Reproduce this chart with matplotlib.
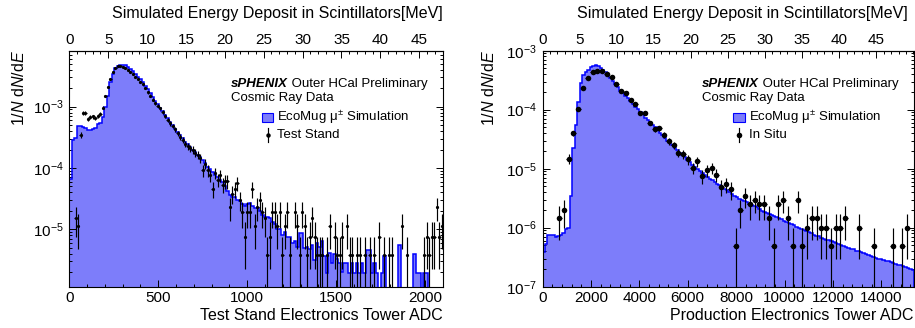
import numpy as np
import matplotlib
matplotlib.use("Agg")
import matplotlib.pyplot as plt
from matplotlib.ticker import (MultipleLocator, FixedLocator, LogLocator,
                               FuncFormatter, NullFormatter)
from matplotlib.patches import Rectangle
from matplotlib.lines import Line2D

plt.rcParams['font.family'] = ['Liberation Sans', 'DejaVu Sans']
plt.rcParams['mathtext.fontset'] = 'custom'
plt.rcParams['mathtext.rm'] = 'Liberation Sans'
plt.rcParams['mathtext.it'] = 'Liberation Sans:italic'
plt.rcParams['mathtext.bf'] = 'Liberation Sans:bold'

# ---------------- data ----------------
# Left: Test Stand electronics (ADC 0-2100, 150 bins)
left_adc_range = (0, 2100)
left_sim = [
    6.5e-5, 2.9e-4, 3.1e-4, 4.8e-4, 4.8e-4, 4.7e-4, 4.5e-4, 4.1e-4, 4.2e-4, 4.4e-4,
    4.5e-4, 5.3e-4, 5.4e-4, 6.8e-4, 1.0e-3, 1.5e-3, 2.5e-3, 3.4e-3, 4.2e-3, 4.6e-3,
    4.7e-3, 4.75e-3, 4.7e-3, 4.5e-3, 4.1e-3, 3.8e-3, 3.4e-3, 3.1e-3, 2.8e-3, 2.5e-3,
    2.2e-3, 1.95e-3, 1.65e-3, 1.42e-3, 1.25e-3, 1.12e-3, 9.6e-4, 8.5e-4, 7.4e-4, 6.6e-4,
    5.7e-4, 5.0e-4, 4.4e-4, 3.9e-4, 3.4e-4, 3.1e-4, 2.7e-4, 2.5e-4, 2.2e-4, 2.0e-4,
    1.85e-4, 1.65e-4, 1.5e-4, 1.35e-4, 1.2e-4, 1.05e-4, 9.5e-5, 8.5e-5, 7.6e-5, 7.0e-5,
    6.4e-5, 5.8e-5, 5.0e-5, 4.2e-5, 3.6e-5, 3.4e-5, 3.3e-5, 3.0e-5, 2.9e-5, 2.6e-5,
    2.4e-5, 2.6e-5, 2.7e-5, 2.4e-5, 2.2e-5, 2.2e-5, 2.0e-5, 1.7e-5, 1.6e-5, 1.6e-5,
    1.5e-5, 1.3e-5, 1.2e-5, 1.0e-5, 1.0e-5, 8.0e-6, 9.0e-6, 7.6e-6, 7.6e-6, 6.0e-6,
    6.5e-6, 5.2e-6, 8.6e-6, 8.6e-6, 5.0e-6, 5.2e-6, 4.8e-6, 5.5e-6, 3.2e-6, 6.0e-6,
    5.2e-6, 6.5e-6, 3.6e-6, 1.9e-6, 4.1e-6, 2.8e-6, 4.0e-6, 3.3e-6, 2.8e-6, 2.0e-6,
    2.8e-6, 2.8e-6, 1.9e-6, 2.8e-6, 1.9e-6, 2.8e-6, 1.9e-6, 2.8e-6, 1.9e-6, 4.6e-6,
    4.6e-6, 1.9e-6, 2.8e-6, 1.9e-6, 0.0, 1.9e-6, 3.6e-6, 0.0, 0.0, 0.0,
    0.0, 0.0, 5.5e-6, 0.0, 0.0, 0.0, 0.0, 0.0, 4.0e-6, 1.9e-6,
    1.9e-6, 0.0, 1.9e-6, 1.9e-6, 0.0, 0.0, 0.0, 0.0, 0.0, 0.0,
]
left_counts = [
    0, 0, 4, 3, 92, 210, 208, 165, 176, 182,
    175, 185, 200, 253, 395, 558, 737, 968, 1130, 1210,
    1210, 1180, 1125, 1045, 970, 885, 810, 735, 675, 610,
    525, 452, 398, 340, 300, 273, 248, 218, 185, 160,
    141, 128, 113, 97, 85, 75, 65, 60, 55, 52,
    47, 43, 38, 24, 31, 24, 20, 12, 22, 17,
    20, 14, 16, 16, 6, 10, 12, 15, 8, 5,
    2, 5, 5, 12, 3, 6, 8, 5, 4, 1,
    2, 5, 5, 3, 5, 1, 3, 5, 1, 0,
    5, 3, 1, 5, 3, 1, 2, 4, 2, 1,
    1, 1, 0, 1, 3, 0, 2, 1, 1, 2,
    0, 3, 1, 1, 0, 1, 1, 0, 1, 0,
    1, 0, 1, 0, 2, 0, 1, 0, 1, 1,
    0, 0, 0, 3, 0, 1, 0, 0, 0, 0,
    0, 0, 1, 2, 1, 2, 2, 6, 2, 3,
]
left_unit = 3.8e-6          # 1/N dN/dE of a single count

# Right: Production electronics (ADC 0-15360)
right_adc_range = (0, 15360)
right_sim = [
    3.9e-7, 5.2e-7, 7.6e-7, 7.6e-7, 7.5e-7, 7.0e-7, 7.3e-7, 7.6e-7, 8.0e-7, 9.6e-7,
    1.0e-6, 3.5e-6, 2.2e-5, 5.5e-5, 1.35e-4, 2.8e-4, 3.9e-4, 4.4e-4, 4.8e-4, 5.35e-4,
    5.6e-4, 5.65e-4, 5.5e-4, 5.1e-4, 4.7e-4, 4.3e-4, 3.9e-4, 3.5e-4, 3.1e-4, 2.7e-4,
    2.4e-4, 2.1e-4, 1.9e-4, 1.72e-4, 1.55e-4, 1.38e-4, 1.24e-4, 1.12e-4, 1.02e-4, 9.2e-5,
    8.3e-5, 7.3e-5, 6.6e-5, 6.0e-5, 5.5e-5, 5.0e-5, 4.6e-5, 4.1e-5, 3.7e-5, 3.3e-5,
    3.0e-5, 2.7e-5, 2.5e-5, 2.25e-5, 2.05e-5, 1.85e-5, 1.7e-5, 1.55e-5, 1.4e-5, 1.28e-5,
    1.16e-5, 1.06e-5, 9.8e-6, 9.0e-6, 8.4e-6, 7.8e-6, 7.3e-6, 6.8e-6, 6.4e-6, 6.0e-6,
    5.6e-6, 5.2e-6, 4.9e-6, 4.6e-6, 4.3e-6, 4.0e-6, 3.75e-6, 3.5e-6, 3.3e-6, 3.1e-6,
    3.0e-6, 2.85e-6, 2.7e-6, 2.55e-6, 2.45e-6, 2.3e-6, 2.2e-6, 2.05e-6, 1.95e-6, 1.85e-6,
    1.8e-6, 1.72e-6, 1.62e-6, 1.55e-6, 1.5e-6, 1.45e-6, 1.4e-6, 1.32e-6, 1.26e-6, 1.2e-6,
    1.15e-6, 1.1e-6, 1.04e-6, 9.9e-7, 9.5e-7, 9.0e-7, 8.7e-7, 8.3e-7, 8.0e-7, 7.6e-7,
    7.3e-7, 7.1e-7, 6.8e-7, 6.5e-7, 6.3e-7, 6.1e-7, 5.9e-7, 5.7e-7, 5.4e-7, 5.3e-7,
    5.1e-7, 4.9e-7, 4.8e-7, 4.6e-7, 4.4e-7, 4.3e-7, 4.1e-7, 4.0e-7, 3.8e-7, 3.7e-7,
    3.6e-7, 3.5e-7, 3.35e-7, 3.2e-7, 3.1e-7, 3.0e-7, 2.95e-7, 2.85e-7, 2.75e-7, 2.7e-7,
    2.6e-7, 2.5e-7, 2.45e-7, 2.35e-7, 2.3e-7, 2.2e-7, 2.15e-7, 2.05e-7, 2.0e-7, 1.95e-7,
]
right_counts = [
    0, 0, 0, 3, 4, 30, 80, 206, 477, 687,
    869, 909, 909, 828, 727, 552, 418, 384, 295, 255,
    176, 176, 121, 94, 97, 75, 59, 50, 38, 36,
    29, 21, 27, 15, 19, 21, 16, 10, 11, 9,
    1, 4, 7, 5, 6, 5, 5, 3, 1, 5,
    6, 3, 1, 6, 1, 2, 3, 3, 2, 2,
    1, 2, 2, 3, 0, 0, 2, 0, 0, 1,
    0, 0, 0, 1, 0, 1, 2, 0,
]
right_unit = 4.95e-7

# secondary (energy) axis conversion, ADC per MeV
left_adc_per_mev = 43.7
right_adc_per_mev = 306.5
mev_ticks = [0, 5, 10, 15, 20, 25, 30, 35, 40, 45]

# ---------------- style ----------------
FILL = '#7d7dfa'
EDGE = '#0000ff'
W, H = 915, 328

fig = plt.figure(figsize=(W / 100, H / 100), dpi=100)

def fx(px):
    return px / W

def fy(py):
    return 1 - py / H

def log_fmt(v, pos):
    return r'$10^{%d}$' % int(round(np.log10(v)))

def draw_panel(ax, sim, counts, unit, adc_range, ylim, adc_per_mev,
               xmajor, xminor, msize):
    sim = np.asarray(sim, dtype=float)
    counts = np.asarray(counts, dtype=float)
    sim_edges = np.linspace(adc_range[0], adc_range[1], len(sim) + 1)
    floor = ylim[0] * 1e-3
    sim_draw = np.where(sim > 0, sim, floor)
    ax.stairs(sim_draw, sim_edges, baseline=floor, fill=True,
              color=FILL, lw=0, zorder=1)
    ax.stairs(sim_draw, sim_edges, baseline=floor, fill=False,
              color=EDGE, lw=1.1, zorder=2)

    d_edges = np.linspace(adc_range[0], adc_range[1], len(counts) + 1)
    centers = 0.5 * (d_edges[:-1] + d_edges[1:])
    half = 0.5 * (d_edges[1] - d_edges[0])
    m = counts > 0
    val = counts[m] * unit
    err = np.sqrt(counts[m]) * unit
    lo = np.minimum(err, val * (1 - 1e-9))
    ax.errorbar(centers[m], val, yerr=[lo, err], xerr=half,
                fmt='o', color='black', ms=msize, mew=0, elinewidth=0.85,
                capsize=0, zorder=3)

    ax.set_yscale('log')
    ax.set_xlim(*adc_range)
    ax.set_ylim(*ylim)
    ax.xaxis.set_major_locator(MultipleLocator(xmajor))
    ax.xaxis.set_minor_locator(MultipleLocator(xminor))
    ax.yaxis.set_major_locator(LogLocator(base=10))
    ax.yaxis.set_minor_locator(LogLocator(base=10, subs=np.arange(2, 10)))
    ax.yaxis.set_major_formatter(FuncFormatter(log_fmt))
    ax.yaxis.set_minor_formatter(NullFormatter())
    ax.tick_params(axis='both', which='both', direction='in', top=False,
                   right=True, labelsize=11, color='black')
    ax.tick_params(axis='both', which='major', length=4.8, width=0.7)
    ax.tick_params(axis='both', which='minor', length=2.4, width=0.7)
    ax.tick_params(axis='x', pad=3)
    ax.tick_params(axis='y', pad=4)
    for s in ax.spines.values():
        s.set_linewidth(0.8)

    sec = ax.secondary_xaxis('top', functions=(lambda a: a / adc_per_mev,
                                                lambda e: e * adc_per_mev))
    sec.xaxis.set_major_locator(FixedLocator(mev_ticks))
    sec.xaxis.set_minor_locator(MultipleLocator(1))
    sec.tick_params(axis='x', which='both', direction='in', labelsize=11,
                    pad=3)
    sec.tick_params(axis='x', which='major', length=4.8, width=0.7)
    sec.tick_params(axis='x', which='minor', length=2.4, width=0.7)
    sec.spines['top'].set_linewidth(0.8)
    return ax

axL = fig.add_axes([fx(69.3), fy(287.3), fx(443 - 69.3), (287.3 - 51) / H])
axR = fig.add_axes([fx(542.5), fy(286.7), fx(914.3 - 542.5), (286.7 - 50.7) / H])

draw_panel(axL, left_sim, left_counts, left_unit, left_adc_range,
           (1.13e-6, 8.1e-3), left_adc_per_mev, 500, 100, 2.3)
draw_panel(axR, right_sim, right_counts, right_unit, right_adc_range,
           (1e-7, 1e-3), right_adc_per_mev, 2000, 400, 4.0)

# ---------------- titles ----------------
TS = 11.5
ylab = r'1/$N$ d$N$/d$E$'
top_title = 'Simulated Energy Deposit in Scintillators[MeV]'
fig.text(fx(443), fy(13.5), top_title, ha='right', va='center', fontsize=TS)
fig.text(fx(907.5), fy(13.5), top_title, ha='right', va='center', fontsize=TS)
fig.text(fx(443), fy(315), 'Test Stand Electronics Tower ADC',
         ha='right', va='center', fontsize=TS)
fig.text(fx(913.5), fy(315), 'Production Electronics Tower ADC',
         ha='right', va='center', fontsize=TS)
fig.text(fx(19), fy(50), ylab, rotation=90, ha='center', va='top', fontsize=TS)
fig.text(fx(489), fy(50), ylab, rotation=90, ha='center', va='top', fontsize=TS)

# ---------------- legends ----------------
LS = 9.5

def legend(x0, label, msize):
    t1 = fig.text(fx(x0), fy(84.3), 'sPHENIX', fontsize=LS, weight='bold',
                  style='italic', ha='left', va='center')
    ann = plt.Annotation(' Outer HCal Preliminary', xy=(1, 0.5), xycoords=t1,
                         fontsize=LS, ha='left', va='center')
    fig.add_artist(ann)
    fig.text(fx(x0), fy(97.7), 'Cosmic Ray Data', fontsize=LS,
             ha='left', va='center')
    bx = x0 + 30.7
    fig.add_artist(Rectangle((fx(bx), fy(121.7)), fx(11.6), 8.4 / H,
                             transform=fig.transFigure, facecolor=FILL,
                             edgecolor=EDGE, lw=0.8))
    fig.text(fx(bx + 15.6), fy(117.3), r'EcoMug μ$^{\pm}$ Simulation',
             fontsize=LS, ha='left', va='center')
    mx = bx + 5.8
    fig.add_artist(Line2D([fx(mx), fx(mx)], [fy(128), fy(142)],
                          transform=fig.transFigure, color='black', lw=0.85))
    fig.add_artist(Line2D([fx(mx)], [fy(135)], transform=fig.transFigure,
                          marker='o', ms=msize, mew=0, color='black'))
    fig.text(fx(bx + 15.6), fy(135), label, fontsize=LS,
             ha='left', va='center')

legend(231, 'Test Stand', 3.2)
legend(702.3, 'In Situ', 4.0)

fig.savefig('out.png', dpi=100)
